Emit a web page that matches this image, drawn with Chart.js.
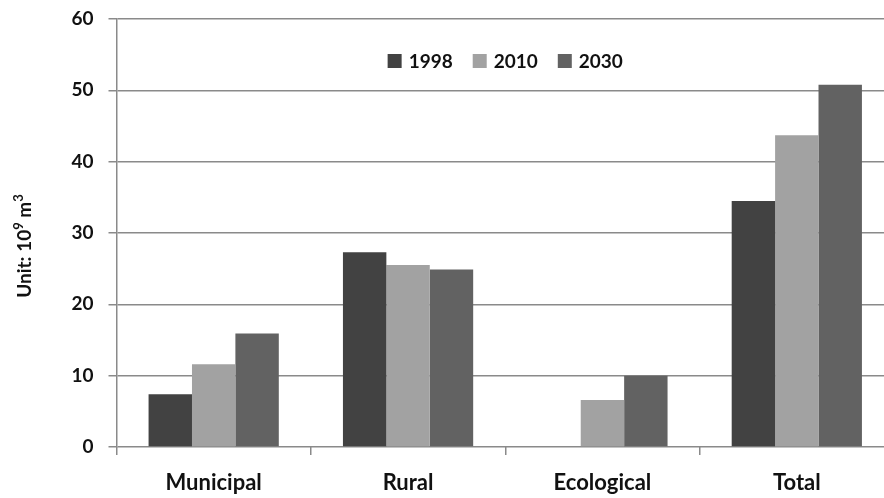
<!DOCTYPE html>
<html>
<head>
<meta charset="utf-8">
<script src="https://cdn.jsdelivr.net/npm/chart.js@4.4.1/dist/chart.umd.min.js"></script>
<style>
  html, body { margin: 0; padding: 0; background: #fff; overflow: hidden; }
  #wrap { width: 894px; height: 498px; }
</style>
</head>
<body>
<div id="wrap"><canvas id="waterChart" width="894" height="498"></canvas></div>
<script>
// categories and series (unit: 10^9 m3)
const categories = ['Municipal', 'Rural', 'Ecological', 'Total'];
const years = ['1998', '2010', '2030'];
const values1998 = [7.4, 27.3, 0, 34.5];
const values2010 = [11.6, 25.5, 6.6, 43.7];
const values2030 = [15.9, 24.9, 10.0, 50.8];
const yTicks = [0, 10, 20, 30, 40, 50, 60];

const barColors = ['#424242', '#a2a2a2', '#626262'];
const gridColor = '#8a8a8a';
const fontFamily = 'Lato, "Open Sans", sans-serif';

// legend drawn inside the plot, centred near the top (like the original)
const innerLegend = {
  id: 'innerLegend',
  afterDraw(chart) {
    const c = chart.ctx;
    const area = chart.chartArea;
    const box = 14, gapText = 7, gapItem = 20;
    c.save();
    c.font = 'bold 19px ' + fontFamily;
    c.textBaseline = 'middle';
    const items = chart.data.datasets.map(ds => ({
      label: ds.label, color: ds.backgroundColor, w: c.measureText(ds.label).width
    }));
    let total = 0;
    items.forEach((it, i) => { total += box + gapText + it.w + (i ? gapItem : 0); });
    let x = (area.left + area.right) / 2 - total / 2;
    const y = area.top + 42;
    items.forEach(it => {
      c.fillStyle = it.color;
      c.fillRect(x, y - box / 2, box, box);
      x += box + gapText;
      c.fillStyle = '#111';
      c.fillText(it.label, x, y + 1);
      x += it.w + gapItem;
    });
    c.restore();
  }
};

// rotated y-axis title with real superscripts: "Unit: 10⁹ m³"
const unitTitle = {
  id: 'unitTitle',
  afterDraw(chart) {
    const c = chart.ctx;
    const area = chart.chartArea;
    const parts = [
      { t: 'Unit: 10', sup: false },
      { t: '9', sup: true },
      { t: ' m', sup: false },
      { t: '3', sup: true }
    ];
    const big = 'bold 19px ' + fontFamily;
    const small = 'bold 13px ' + fontFamily;
    c.save();
    let total = 0;
    parts.forEach(p => { c.font = p.sup ? small : big; p.w = c.measureText(p.t).width; total += p.w; });
    c.translate(24, (area.top + area.bottom) / 2 + 13);
    c.rotate(-Math.PI / 2);
    c.fillStyle = '#111';
    c.textBaseline = 'alphabetic';
    let x = -total / 2;
    parts.forEach(p => {
      c.font = p.sup ? small : big;
      c.fillText(p.t, x, p.sup ? -1 : 7);
      x += p.w;
    });
    c.restore();
  }
};

const ctx = document.getElementById('waterChart').getContext('2d');

new Chart(ctx, {
  type: 'bar',
  data: {
    labels: categories,
    datasets: [
      { label: years[0], data: values1998, backgroundColor: barColors[0] },
      { label: years[1], data: values2010, backgroundColor: barColors[1] },
      { label: years[2], data: values2030, backgroundColor: barColors[2] }
    ]
  },
  plugins: [innerLegend, unitTitle],
  options: {
    responsive: false,
    animation: false,
    layout: { padding: { top: 0, left: 46, right: 0, bottom: 0 } },
    datasets: {
      bar: {
        categoryPercentage: 0.67,
        barPercentage: 1.0,
        borderWidth: 0
      }
    },
    plugins: {
      tooltip: { enabled: false },
      legend: { display: false }
    },
    scales: {
      x: {
        // chart.js counts tick padding twice when sizing, so fix the height here
        afterFit: axis => { axis.height = 51; },
        grid: {
          offset: true,
          drawOnChartArea: false,
          color: gridColor,
          lineWidth: 1.5,
          tickLength: 8
        },
        border: { display: false },
        ticks: {
          color: '#111',
          padding: 15,
          font: { family: fontFamily, size: 22, weight: 'bold' }
        }
      },
      y: {
        min: 0,
        max: 60,
        afterBuildTicks: axis => { axis.ticks = yTicks.map(v => ({ value: v })); },
        afterFit: axis => { axis.width = 70.5; axis.paddingTop = 19; },
        grid: {
          color: gridColor,
          lineWidth: 1.5,
          tickLength: 8
        },
        border: { color: gridColor, width: 1.5 },
        ticks: {
          color: '#111',
          padding: 15,
          font: { family: fontFamily, size: 19, weight: 'bold' }
        }
      }
    }
  }
});
</script>
</body>
</html>
